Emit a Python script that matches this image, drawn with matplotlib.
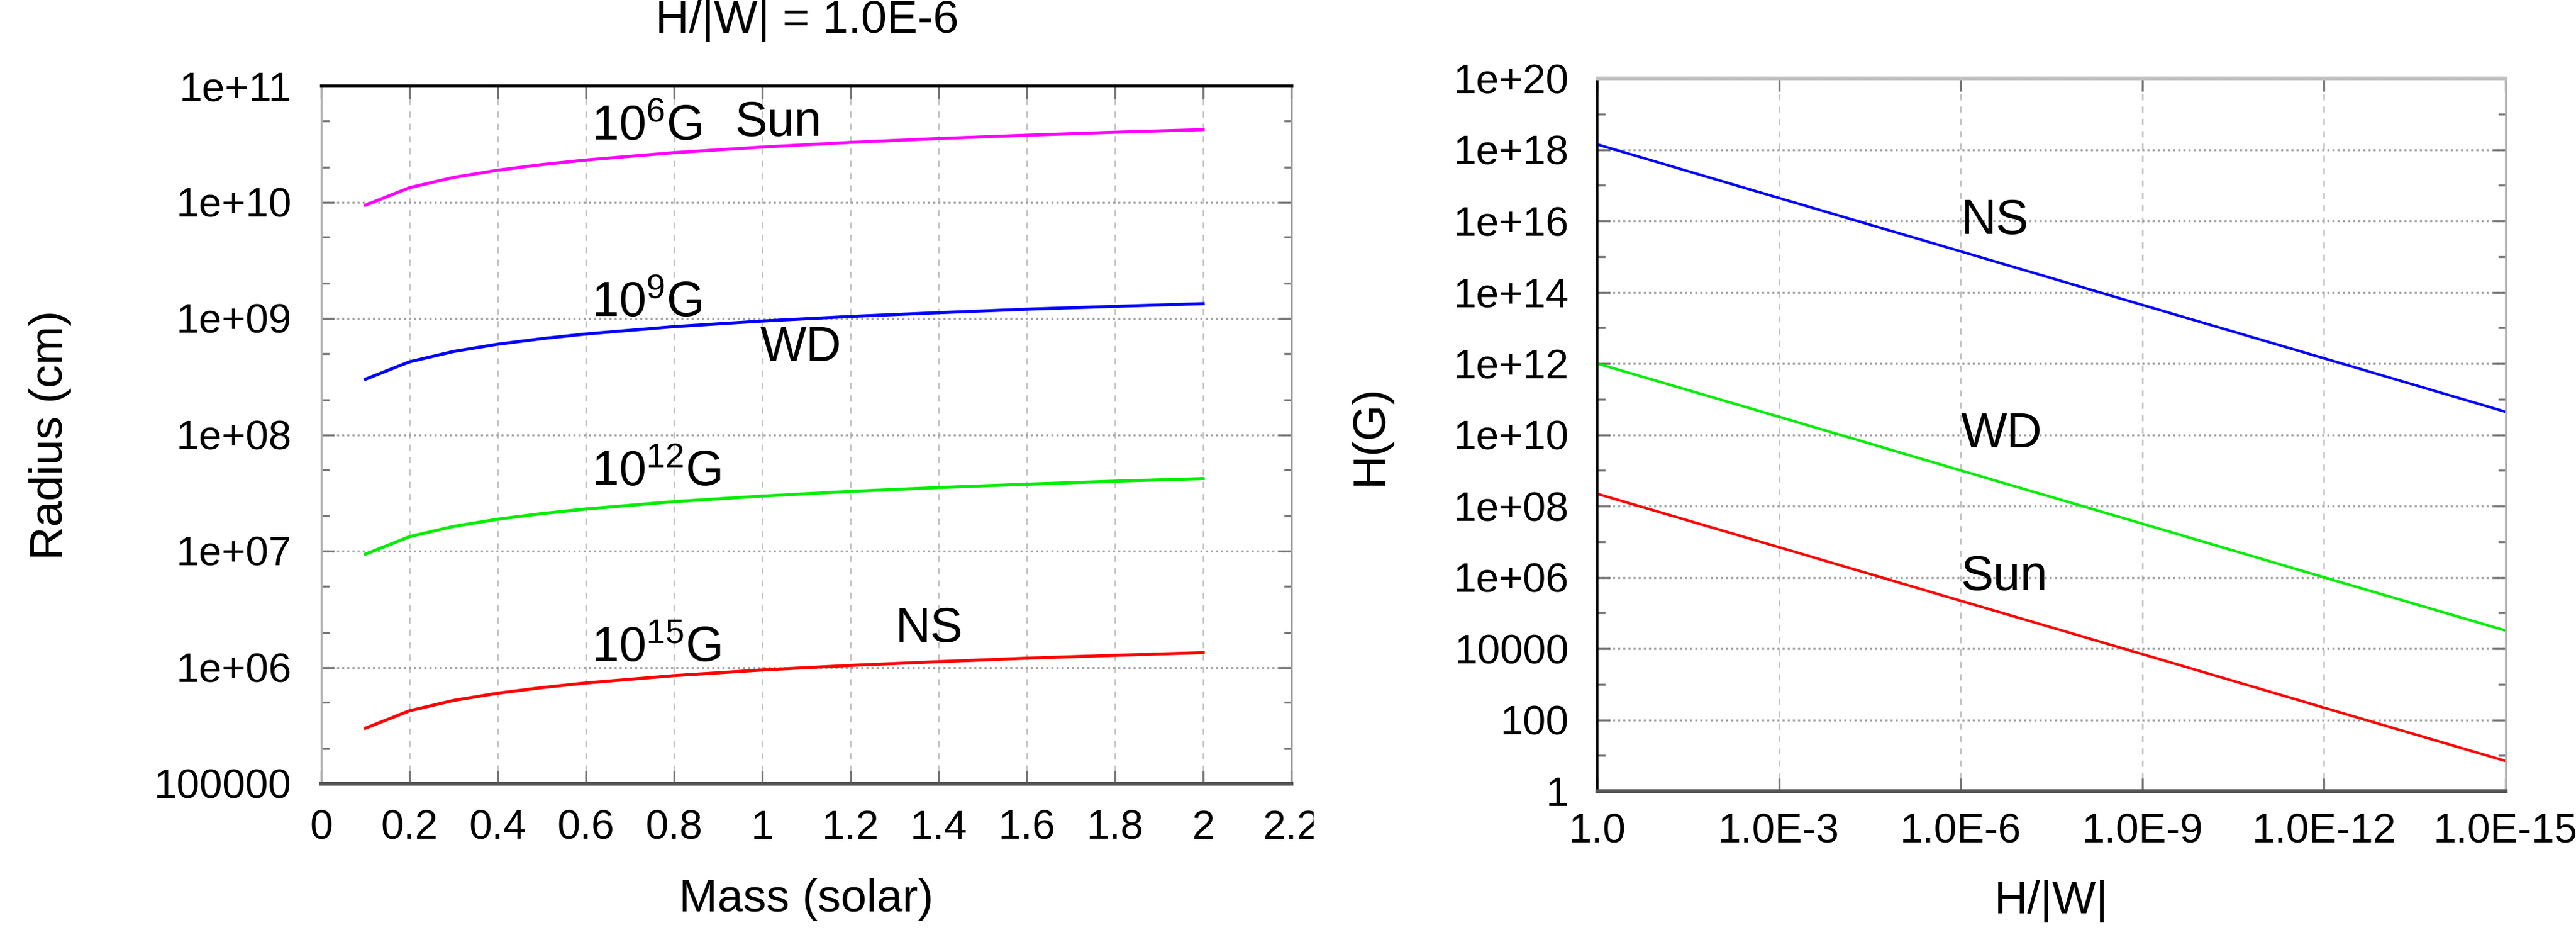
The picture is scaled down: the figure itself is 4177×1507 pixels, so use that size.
import matplotlib
matplotlib.use('Agg')
import matplotlib.pyplot as plt
from matplotlib.ticker import FixedLocator, LogLocator, NullLocator
from matplotlib.transforms import Bbox, TransformedBbox

plt.rcParams['font.family'] = ['Liberation Sans', 'DejaVu Sans']
plt.rcParams['mathtext.fontset'] = 'custom'
plt.rcParams['mathtext.rm'] = 'Liberation Sans'
plt.rcParams['mathtext.it'] = 'Liberation Sans:italic'

# left panel: radius vs mass at H/|W| = 1e-6
mass = [0.1, 0.2, 0.3, 0.4, 0.5, 0.6, 0.8, 1.0, 1.2, 1.4, 1.6, 1.8, 2.0]
r_sun = [9.4e9, 1.33e10, 1.63e10, 1.88e10, 2.1e10, 2.3e10, 2.66e10, 2.97e10,
         3.26e10, 3.52e10, 3.76e10, 3.99e10, 4.2e10]
r_wd = [3.0e8, 4.24e8, 5.2e8, 6.0e8, 6.7e8, 7.35e8, 8.5e8, 9.5e8,
        1.04e9, 1.12e9, 1.2e9, 1.27e9, 1.34e9]
r_12 = [9.4e6, 1.33e7, 1.63e7, 1.88e7, 2.1e7, 2.3e7, 2.66e7, 2.97e7,
        3.26e7, 3.52e7, 3.76e7, 3.99e7, 4.2e7]
r_ns = [3.0e5, 4.24e5, 5.2e5, 6.0e5, 6.7e5, 7.35e5, 8.5e5, 9.5e5,
        1.04e6, 1.12e6, 1.2e6, 1.27e6, 1.34e6]
mass_ticks = [0, 0.2, 0.4, 0.6, 0.8, 1.0, 1.2, 1.4, 1.6, 1.8, 2.0, 2.2]
mass_ticklabels = ['0', '0.2', '0.4', '0.6', '0.8', '1', '1.2', '1.4', '1.6', '1.8', '2', '2.2']
r_ticks = [1e5, 1e6, 1e7, 1e8, 1e9, 1e10, 1e11]
r_ticklabels = ['100000', '1e+06', '1e+07', '1e+08', '1e+09', '1e+10', '1e+11']

# right panel: field vs H/|W|
ratio = [1.0, 1e-3, 1e-6, 1e-9, 1e-12, 1e-15]
ratio_labels = ['1.0', '1.0E-3', '1.0E-6', '1.0E-9', '1.0E-12', '1.0E-15']
h_ns = [1.4e18, 4.4e16, 1.4e15, 4.4e13, 1.4e12, 4.4e10]
h_wd = [1.0e12, 3.2e10, 1.0e9, 3.2e7, 1.0e6, 3.2e4]
h_sun = [2.2e8, 7.0e6, 2.2e5, 7.0e3, 2.2e2, 7.0]
h_ticks = [1, 1e2, 1e4, 1e6, 1e8, 1e10, 1e12, 1e14, 1e16, 1e18, 1e20]
h_ticklabels = ['1', '100', '10000', '1e+06', '1e+08', '1e+10', '1e+12',
                '1e+14', '1e+16', '1e+18', '1e+20']

W, H = 4177, 1507
fig = plt.figure(figsize=(W / 300, H / 300), dpi=300)
ax1 = fig.add_axes([521 / W, 1 - 1270 / H, (2094 - 521) / W, (1270 - 139) / H])
ax2 = fig.add_axes([2590 / W, 1 - 1282 / H, (4063 - 2590) / W, (1282 - 127) / H])

fs_tick = 16
fs_lab = 18
fs_ann = 19

# ---- left
ax1.plot(mass, r_sun, color='#ff00ff', lw=1.2)
ax1.plot(mass, r_wd, color='#0000ff', lw=1.2)
ax1.plot(mass, r_12, color='#00ee00', lw=1.2)
ax1.plot(mass, r_ns, color='#ff0000', lw=1.2)
ax1.set_yscale('log')
ax1.set_xlim(0, 2.2)
ax1.set_ylim(1e5, 1e11)
ax1.xaxis.set_major_locator(FixedLocator(mass_ticks))
ax1.set_xticklabels(mass_ticklabels)
ax1.yaxis.set_major_locator(FixedLocator(r_ticks))
ax1.set_yticklabels(r_ticklabels)
ax1.yaxis.set_minor_locator(LogLocator(base=10, subs=(2.0, 5.0)))
ax1.yaxis.set_minor_formatter(plt.NullFormatter())

ax1.text(0.613, 10**10.64, r'$\mathregular{10^{6}G}$', fontsize=fs_ann, va='center')
ax1.text(0.937, 10**10.68, 'Sun', fontsize=fs_ann, va='center')
ax1.text(0.613, 10**9.125, r'$\mathregular{10^{9}G}$', fontsize=fs_ann, va='center')
ax1.text(0.996, 10**8.744, 'WD', fontsize=fs_ann, va='center')
ax1.text(0.613, 10**7.67, r'$\mathregular{10^{12}G}$', fontsize=fs_ann, va='center')
ax1.text(0.613, 10**6.16, r'$\mathregular{10^{15}G}$', fontsize=fs_ann, va='center')
ax1.text(1.302, 10**6.33, 'NS', fontsize=fs_ann, va='center')

ax1.set_xlabel('Mass (solar)', fontsize=fs_lab)
ax1.set_ylabel('Radius (cm)', fontsize=fs_lab)
ax1.xaxis.set_label_coords(0.5, -0.135)
ax1.yaxis.set_label_coords(-0.2575, 0.5)
fig.text(1309 / W, 1 - 53 / H, 'H/|W| = 1.0E-6', fontsize=fs_lab,
         ha='center', va='baseline')

ax1.spines['top'].set_color('black')
ax1.spines['top'].set_linewidth(1.3)
ax1.spines['bottom'].set_color('#555555')
ax1.spines['bottom'].set_linewidth(1.5)
ax1.spines['left'].set_color('#b0b0b0')
ax1.spines['left'].set_linewidth(0.8)
ax1.spines['right'].set_color('#999999')
ax1.spines['right'].set_linewidth(0.8)

# ---- right
ax2.plot(ratio, h_ns, color='#0000ff', lw=1.0)
ax2.plot(ratio, h_wd, color='#00ee00', lw=1.0)
ax2.plot(ratio, h_sun, color='#ff0000', lw=1.0)
ax2.set_xscale('log')
ax2.set_yscale('log')
ax2.set_xlim(1.0, 1e-15)
ax2.set_ylim(1, 1e20)
ax2.xaxis.set_major_locator(FixedLocator(ratio))
ax2.xaxis.set_minor_locator(NullLocator())
ax2.set_xticklabels(ratio_labels)
ax2.yaxis.set_major_locator(FixedLocator(h_ticks))
ax2.set_yticklabels(h_ticklabels)
ax2.yaxis.set_minor_locator(FixedLocator([10.0 ** k for k in range(1, 20, 2)]))
ax2.yaxis.set_minor_formatter(plt.NullFormatter())

ax2.text(1e-6, 1e16, 'NS', fontsize=fs_ann, va='center')
ax2.text(1e-6, 1e10, 'WD', fontsize=fs_ann, va='center')
ax2.text(1e-6, 1e6, 'Sun', fontsize=fs_ann, va='center')

ax2.set_xlabel('H/|W|', fontsize=fs_lab)
ax2.set_ylabel('H(G)', fontsize=fs_lab)
ax2.xaxis.set_label_coords(0.5, -0.125)
ax2.yaxis.set_label_coords(-0.2267, 0.5)

ax2.spines['top'].set_color('#c0c0c0')
ax2.spines['top'].set_linewidth(1.4)
ax2.spines['bottom'].set_color('#555555')
ax2.spines['bottom'].set_linewidth(1.5)
ax2.spines['left'].set_color('black')
ax2.spines['left'].set_linewidth(0.9)
ax2.spines['right'].set_color('#b0b0b0')
ax2.spines['right'].set_linewidth(0.8)

for ax in (ax1, ax2):
    ax.grid(axis='x', which='major', ls=(0, (4, 4)), color='#c0c0c0', lw=0.6)
    ax.grid(axis='y', which='major', ls=(0, (1, 1.5)), color='#a0a0a0', lw=0.8)
    ax.tick_params(which='both', direction='in', top=True, right=True,
                   color='#777777', labelsize=fs_tick)
    ax.tick_params(which='major', length=5, width=0.8)
    ax.tick_params(which='minor', length=3, width=0.8)
    ax.set_axisbelow(True)

ax1.tick_params(axis='x', pad=10)
ax1.tick_params(axis='y', pad=11.5)
ax2.tick_params(axis='x', pad=8.5)
ax2.tick_params(axis='y', pad=11)

# left image was cut off just past the "2.2" label
clip = TransformedBbox(Bbox([[0, 0], [2130 / W, 1]]), fig.transFigure)
for t in ax1.xaxis.get_major_ticks():
    t.label1.set_clip_box(clip)
    t.label1.set_clip_on(True)

fig.savefig('out.png', dpi=300, facecolor='white')
